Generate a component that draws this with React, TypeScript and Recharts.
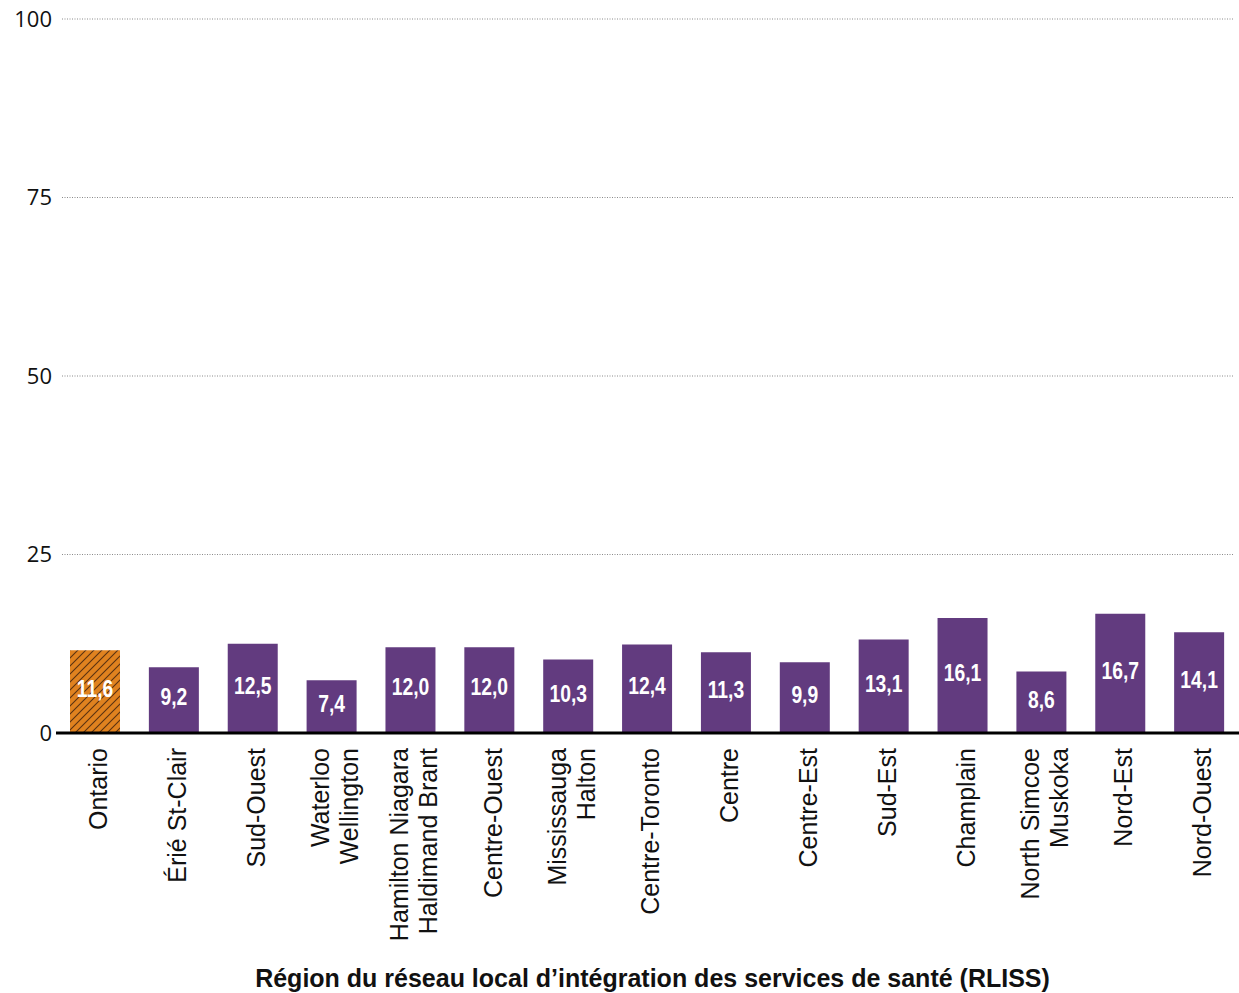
import React from "react";
import {
  BarChart,
  Bar,
  XAxis,
  YAxis,
  CartesianGrid,
  Cell,
  LabelList,
} from "recharts";

const regions = [
  "Ontario",
  "Érié St-Clair",
  "Sud-Ouest",
  "Waterloo\nWellington",
  "Hamilton Niagara\nHaldimand Brant",
  "Centre-Ouest",
  "Mississauga\nHalton",
  "Centre-Toronto",
  "Centre",
  "Centre-Est",
  "Sud-Est",
  "Champlain",
  "North Simcoe\nMuskoka",
  "Nord-Est",
  "Nord-Ouest",
];

const rates = [11.6, 9.2, 12.5, 7.4, 12.0, 12.0, 10.3, 12.4, 11.3, 9.9, 13.1, 16.1, 8.6, 16.7, 14.1];

const yTicks = [0, 25, 50, 75, 100];

const axisTitle = "Région du réseau local d’intégration des services de santé (RLISS)";

const chartData = regions.map((region, i) => ({ region, rate: rates[i] }));

const PURPLE = "#623B7F";
const ORANGE = "#E0821F";

const RegionTick = (props: any) => {
  const { x, y, payload } = props;
  const lines: string[] = String(payload.value).split("\n");
  return (
    <g transform={`translate(${x},${y + 15})`}>
      <text
        transform="rotate(-90)"
        textAnchor="end"
        fontFamily="'Liberation Sans', Arial, sans-serif"
        fontSize={25}
        fill="#111"
      >
        {lines.map((line, i) => (
          <tspan key={i} x={0} y={(i - (lines.length - 1) / 2) * 29 + 3} dy="0.35em">
            {line}
          </tspan>
        ))}
      </text>
    </g>
  );
};

// condensed bold value inside each bar
const ValueLabel = (props: any) => {
  const { x, y, width, height, value } = props;
  const cx = x + width / 2;
  const cy = y + height / 2 - 3;
  return (
    <text
      transform={`translate(${cx},${cy}) scale(0.84,1)`}
      textAnchor="middle"
      dy="0.36em"
      fontFamily="'Liberation Sans', Arial, sans-serif"
      fontWeight="bold"
      fontSize={23}
      fill="#fff"
    >
      {Number(value).toFixed(1).replace(".", ",")}
    </text>
  );
};

const GridLine = (props: any) => {
  const { x1, x2, y1, y2 } = props;
  return (
    <line
      x1={x1 + 6}
      x2={x2 - 5}
      y1={y1}
      y2={y2}
      stroke="#8a8a8a"
      strokeWidth={1}
      strokeDasharray="1 1.5"
    />
  );
};

const App: React.FC = () => {
  return (
    <div style={{ position: "absolute", left: 0, top: 0, background: "#fff" }}>
      <BarChart
        width={1239}
        height={993}
        data={chartData}
        margin={{ top: 19, right: 0, bottom: 0, left: 0 }}
        barSize={50}
      >
        <defs>
          <pattern id="hatch" patternUnits="userSpaceOnUse" width={8} height={8}>
            <rect width={8} height={8} fill={ORANGE} />
            <path
              d="M0,8 L8,0 M-2,2 L2,-2 M6,10 L10,6"
              stroke="#5b3210"
              strokeWidth={1.1}
            />
          </pattern>
        </defs>
        <CartesianGrid vertical={false} horizontal={(p: any) => <GridLine key={p.key} {...p} />} />
        <YAxis
          type="number"
          domain={[0, 100]}
          ticks={yTicks}
          width={56}
          axisLine={false}
          tickLine={false}
          tickSize={0}
          tickMargin={4}
          tick={{ fontFamily: "'Open Sans', sans-serif", fontSize: 22, fill: "#111" }}
        />
        <XAxis
          dataKey="region"
          type="category"
          interval={0}
          height={260}
          tickLine={false}
          tickSize={0}
          tickMargin={0}
          axisLine={{ stroke: "#000", strokeWidth: 3 }}
          tick={<RegionTick />}
          label={{
            value: axisTitle,
            position: "insideBottom",
            offset: 6,
            dx: 5,
            style: {
              fontFamily: "'Liberation Sans', Arial, sans-serif",
              fontWeight: "bold",
              fontSize: 25,
              fill: "#111",
            },
          }}
        />
        <Bar dataKey="rate" isAnimationActive={false}>
          {chartData.map((d, i) => (
            <Cell key={d.region} fill={i === 0 ? "url(#hatch)" : PURPLE} />
          ))}
          <LabelList dataKey="rate" content={<ValueLabel />} />
        </Bar>
      </BarChart>
    </div>
  );
};

export default App;
